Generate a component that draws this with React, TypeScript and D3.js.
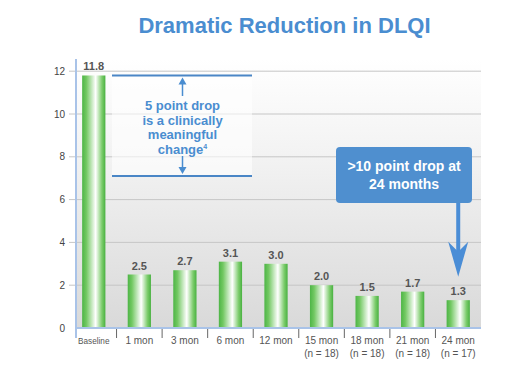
import React from "react";
import * as d3 from "d3";

const categories = ["Baseline", "1 mon", "3 mon", "6 mon", "12 mon", "15 mon", "18 mon", "21 mon", "24 mon"];
const subLabels = ["", "", "", "", "", "(n = 18)", "(n = 18)", "(n = 18)", "(n = 17)"];
const values = [11.8, 2.5, 2.7, 3.1, 3.0, 2.0, 1.5, 1.7, 1.3];
const yTicks = [0, 2, 4, 6, 8, 10, 12];
const title = "Dramatic Reduction in DLQI";
const noteLines = ["5 point drop", "is a clinically", "meaningful", "change"];
const boxLines = [">10 point drop at", "24 months"];

const W = 520, H = 377;
const left = 76, right = 481, top = 71.2, bottom = 328;
const FONT = "'Liberation Sans', Arial, sans-serif";
const BLUE = "#4a8dd0";

export default function App() {
  const x = d3.scaleBand<string>().domain(categories).range([71, right]).paddingInner(0.49).paddingOuter(0.245);
  const y = d3.scaleLinear().domain([0, 12]).range([bottom, top]);
  const step = x.step();
  const bw = x.bandwidth();
  const cx = (c: string) => (x(c) as number) + bw / 2;

  const noteTop = y(11.8);
  const noteBot = y(7.1);
  const noteX0 = 112, noteX1 = 252, noteCx = 182.5;

  const arrowX = cx("24 mon");
  const boxX0 = 336, boxX1 = 472, boxY0 = 147, boxY1 = 203;
  const tipY = y(2.4);

  return (
    <svg width={W} height={H} style={{ position: "absolute", left: 0, top: 0, fontFamily: FONT }}>
      <defs>
        <linearGradient id="bg" x1="0" y1="0" x2="0" y2="1">
          <stop offset="0" stopColor="#ffffff" />
          <stop offset="0.35" stopColor="#f3f3f3" />
          <stop offset="1" stopColor="#d9d9d9" />
        </linearGradient>
        <linearGradient id="bar" x1="0" y1="0" x2="1" y2="0">
          <stop offset="0" stopColor="#4db546" />
          <stop offset="0.18" stopColor="#72c862" />
          <stop offset="0.58" stopColor="#ffffff" />
          <stop offset="0.85" stopColor="#7ccc6c" />
          <stop offset="1" stopColor="#48b140" />
        </linearGradient>
      </defs>
      <rect width={W} height={H} fill="#fff" />
      <text x={284.5} y={33} textAnchor="middle" fontSize={22} fontWeight="bold" fill={BLUE}>{title}</text>

      <rect x={left} y={59} width={right - left} height={bottom - 59} fill="url(#bg)" />

      {yTicks.filter(t => t > 0).map(t => (
        <line key={t} x1={69} x2={right} y1={y(t)} y2={y(t)} stroke="#c6c6c6" strokeWidth={1} />
      ))}
      {yTicks.map(t => (
        <text key={t} x={65} y={y(t) + 3.5} textAnchor="end" fontSize={10} fill="#444">{t}</text>
      ))}

      {/* note box */}
      <rect x={noteX0} y={noteTop} width={noteX1 - noteX0} height={noteBot - noteTop} fill="#ffffff" opacity={0.6} />

      {categories.map((c, i) => (
        <g key={c}>
          <rect x={x(c) as number} y={y(values[i])} width={bw} height={bottom - y(values[i])} fill="url(#bar)" />
          <text x={cx(c)} y={y(values[i]) - 5} textAnchor="middle" fontSize={11} fontWeight="bold" fill="#555">{values[i].toFixed(1)}</text>
          <text x={cx(c)} y={344} textAnchor="middle" fontSize={c === "Baseline" ? 8.2 : 10} fill="#555">{c}</text>
          {subLabels[i] && <text x={cx(c)} y={357} textAnchor="middle" fontSize={10} fill="#555">{subLabels[i]}</text>}
        </g>
      ))}

      {categories.slice(1).map(c => (
        <line key={c} x1={(x(c) as number) - (step - bw) / 2} x2={(x(c) as number) - (step - bw) / 2} y1={329} y2={338} stroke="#666" strokeWidth={1} />
      ))}

      <line x1={left} x2={left} y1={59} y2={338} stroke="#a9c3e8" strokeWidth={2} />
      <line x1={left} x2={right} y1={bottom} y2={bottom} stroke="#a9c3e8" strokeWidth={2} />

      {/* 5 point drop annotation */}
      <line x1={noteX0} x2={noteX1} y1={noteTop} y2={noteTop} stroke="#4a86c6" strokeWidth={2} />
      <line x1={noteX0} x2={noteX1} y1={noteBot} y2={noteBot} stroke="#4a86c6" strokeWidth={2} />
      <line x1={noteCx} x2={noteCx} y1={96} y2={noteTop + 5} stroke={BLUE} strokeWidth={1.5} />
      <path d={`M${noteCx - 4},${noteTop + 9} L${noteCx},${noteTop + 2} L${noteCx + 4},${noteTop + 9} Z`} fill={BLUE} />
      <line x1={noteCx} x2={noteCx} y1={156} y2={noteBot - 5} stroke={BLUE} strokeWidth={1.5} />
      <path d={`M${noteCx - 4},${noteBot - 9} L${noteCx},${noteBot - 2} L${noteCx + 4},${noteBot - 9} Z`} fill={BLUE} />
      {noteLines.map((l, i) => (
        <text key={i} x={noteCx} y={110 + i * 14.7} textAnchor="middle" fontSize={13} fontWeight="bold" fill={BLUE}>
          {l}{i === 3 && <tspan fontSize={7} dy={-5}>4</tspan>}
        </text>
      ))}

      {/* >10 point drop callout */}
      <rect x={boxX0} y={boxY0} width={boxX1 - boxX0} height={boxY1 - boxY0} rx={4} fill="#4f8fcf" />
      {boxLines.map((l, i) => (
        <text key={i} x={(boxX0 + boxX1) / 2} y={171 + i * 17.5} textAnchor="middle" fontSize={14} fontWeight="bold" fill="#fff">{l}</text>
      ))}
      <rect x={arrowX - 2} y={boxY1} width={4} height={tipY - boxY1 - 20} fill="#4a8dd6" />
      <path d={`M${arrowX},${tipY} L${arrowX - 10},${tipY - 35} L${arrowX},${tipY - 25} L${arrowX + 10},${tipY - 35} Z`} fill="#4a8dd6" />
    </svg>
  );
}
